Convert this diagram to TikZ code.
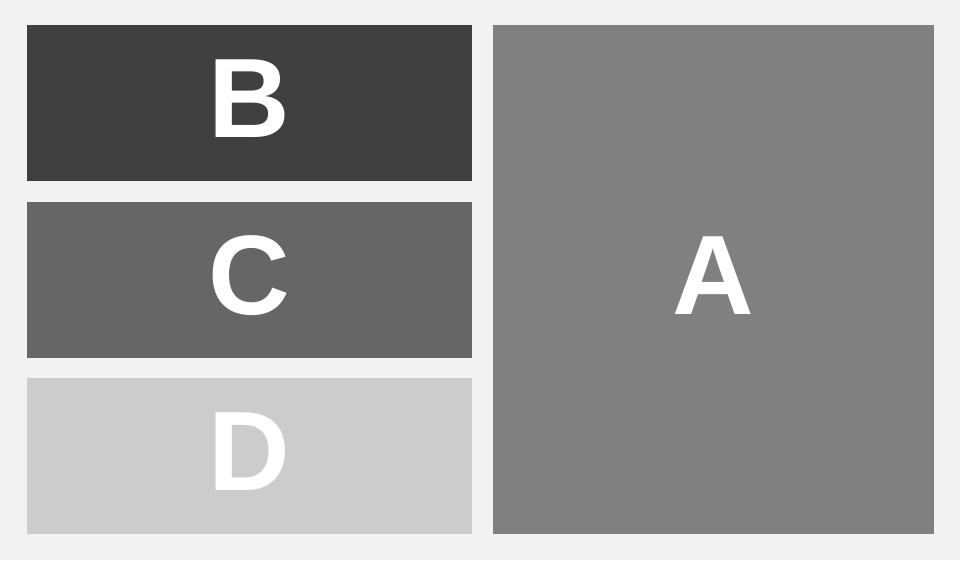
\documentclass[tikz,border=0pt]{standalone}
\usepackage{fontspec}
\setmainfont{Liberation Sans}
\usepackage{xcolor}
\usetikzlibrary{positioning}
\definecolor{pagebg}{HTML}{F2F2F2}
\definecolor{tileb}{HTML}{404040}
\definecolor{tilec}{HTML}{666666}
\definecolor{tiled}{HTML}{CCCCCC}
\definecolor{tilea}{HTML}{808080}

\begin{document}
\begin{tikzpicture}[x=1pt, y=-1pt,
      tile/.style={inner sep=0pt, outer sep=0pt, minimum width=445pt,
                   minimum height=156pt},
      letter/.style={text=white, font=\fontsize{113}{113}\selectfont\bfseries,
                     inner sep=0pt}]
    \fill[pagebg] (0,0) rectangle (960,560);
    \useasboundingbox (0,0) rectangle (960,560);
    \node[tile, fill=tileb] (b) at (249.5,103) {};
    \node[tile, fill=tilec] (c) at (249.5,280) {};
    \node[tile, fill=tiled] (d) at (249.5,456) {};
    \node[tile, fill=tilea, minimum width=441pt, minimum height=509pt] (a) at (713.5,279.5) {};
    \foreach \t/\l in {b/B, c/C, d/D, a/A}
      \node[letter, yshift=4pt] (\t l) at (\t) {\l};
  \end{tikzpicture}
\end{document}
